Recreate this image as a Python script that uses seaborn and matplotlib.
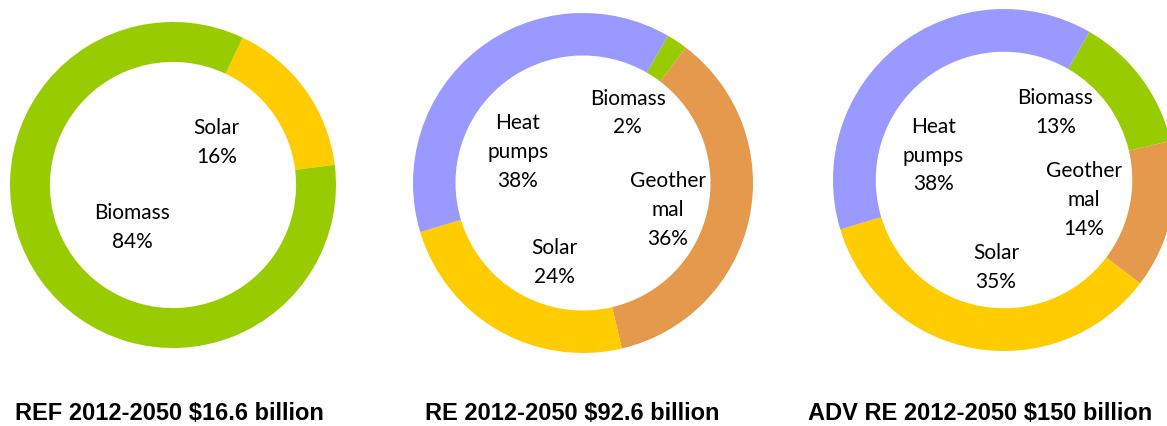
import matplotlib
matplotlib.use("Agg")
import matplotlib.pyplot as plt
import seaborn as sns

# Shares of heating investment by technology, 2012-2050
ref_labels = ["Solar", "Biomass"]
ref_values = [16, 84]

re_labels = ["Biomass", "Geother\nmal", "Solar", "Heat\npumps"]
re_values = [2, 36, 24, 38]

adv_labels = ["Biomass", "Geother\nmal", "Solar", "Heat\npumps"]
adv_values = [13, 14, 35, 38]

titles = ["REF 2012-2050 $16.6 billion",
          "RE 2012-2050 $92.6 billion",
          "ADV RE 2012-2050 $150 billion"]

colors = {"Biomass": "#99CC00", "Solar": "#FFCC00",
          "Geother\nmal": "#E5994C", "Heat\npumps": "#9999FF"}

sns.set_theme(style="white")
plt.rcParams["font.family"] = ["Lato", "DejaVu Sans"]

W, H = 1167, 427
fig = plt.figure(figsize=(W / 100, H / 100), dpi=100)
ax = fig.add_axes([0, 0, 1, 1])


def Y(y):
    # convert a top-down pixel row into data y
    return H - y


# (center x, center y, outer radius, ring width, start bearing in degrees)
rings = [
    (173, 186, 163, 0.245, 25.3),
    (583, 184, 170, 0.25, 30.0),
    (1004, 181, 171, 0.25, 30.0),
]
series = [(ref_labels, ref_values), (re_labels, re_values), (adv_labels, adv_values)]

for (cx, cy, r, w, bearing), (labs, vals) in zip(rings, series):
    ax.pie(vals, colors=[colors[l] for l in labs], center=(cx, Y(cy)), radius=r,
           startangle=90 - bearing, counterclock=False,
           wedgeprops=dict(width=r * w, edgecolor="none", linewidth=0))

# label positions inside each ring
label_pos = [
    {"Solar": (216.7, 142.7), "Biomass": (132.4, 227.7)},
    {"Biomass": (627.7, 113), "Heat\npumps": (518, 152),
     "Geother\nmal": (668, 210), "Solar": (554, 262.5)},
    {"Biomass": (1055.5, 112.5), "Heat\npumps": (933.3, 155.7),
     "Geother\nmal": (1083.6, 200), "Solar": (996, 267.5)},
]
for pos, (labs, vals) in zip(label_pos, series):
    for lab, v in zip(labs, vals):
        x, y = pos[lab]
        ax.text(x, Y(y), f"{lab}\n{v}%", ha="center", va="center",
                multialignment="center", fontsize=15, linespacing=1.55,
                color="black")

title_x = [169, 572, 980.5]
for tx, t in zip(title_x, titles):
    ax.text(tx, Y(414), t, ha="center", va="center", fontsize=17,
            fontweight="bold", family=["Liberation Sans", "DejaVu Sans"],
            color="black")

ax.set_xlim(0, W)
ax.set_ylim(0, H)
ax.set_aspect("equal")
ax.axis("off")

fig.savefig("out.png", dpi=100, facecolor="white")
